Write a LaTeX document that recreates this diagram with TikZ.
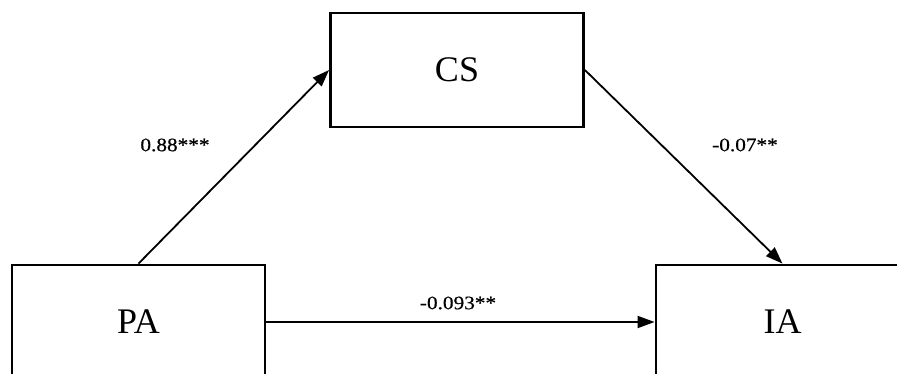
\documentclass[tikz,border=0pt]{standalone}
\usepackage{fontspec}
\setmainfont{Liberation Serif}
\newfontfamily\coeffont[FakeStretch=1.12,FakeBold=0.5]{Liberation Serif}
\usetikzlibrary{arrows.meta}
\tikzset{
  varbox/.style={draw=black, line width=2.8pt, minimum width=253pt, minimum height=114pt, inner sep=0pt, font=\fontsize{36}{40}\selectfont},
  conn/.style={line width=1.8pt, -{Triangle[length=17pt,width=12pt]}},
  coef/.style={font=\coeffont\fontsize{19}{22}\selectfont, inner sep=0pt}
}
\begin{document}
\begin{tikzpicture}[x=1pt,y=-1pt]
\useasboundingbox (0,0) rectangle (897,374);
\clip (0,0) rectangle (897,374);
\node[varbox] (CS) at (457,70) {CS};
\node[varbox] (PA) at (138.5,322) {PA};
\node[varbox] (IA) at (782.5,322) {IA};
\draw[conn] (PA.north) -- (CS.west);
\draw[conn] (CS.east) -- (IA.north);
\draw[conn] (PA.east) -- (IA.west);
\node[coef] (l1) at (175,145) {0.88***};
\node[coef] (l2) at (745,145) {-0.07**};
\node[coef] (l3) at (458,303) {-0.093**};
\end{tikzpicture}
\end{document}
